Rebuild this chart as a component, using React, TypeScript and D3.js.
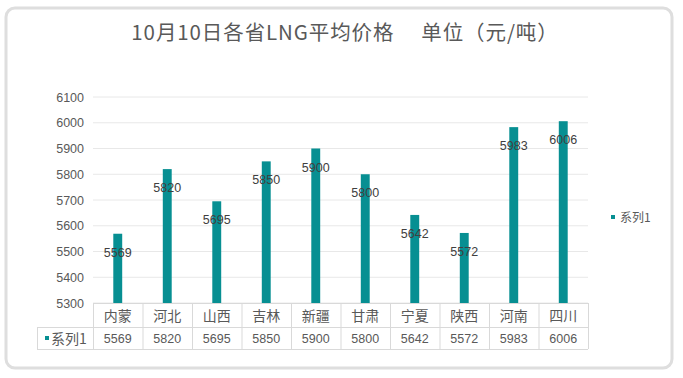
import React from "react";
import * as d3 from "d3";

const categories = ["内蒙", "河北", "山西", "吉林", "新疆", "甘肃", "宁夏", "陕西", "河南", "四川"];
const values = [5569, 5820, 5695, 5850, 5900, 5800, 5642, 5572, 5983, 6006];
const yTicks = [5300, 5400, 5500, 5600, 5700, 5800, 5900, 6000, 6100];
const seriesName = "系列1";
const title = "10月10日各省LNG平均价格　 单位（元/吨）";

const W = 683;
const H = 378;
const TEAL = "#078f92";
const FONT = "'Liberation Sans', 'Noto Sans CJK SC', sans-serif";
const CJK = "'Noto Sans CJK SC', sans-serif";

export default function App() {
  const x = d3.scaleBand<string>().domain(categories).range([93, 588]).paddingInner(0.82).paddingOuter(0.41);
  const y = d3.scaleLinear().domain([5300, 6100]).range([303, 97]);
  const step = x.step();
  const tableLeft = 37;
  const plotLeft = 93;
  const plotRight = 588;
  const row1Top = 303;
  const row1Bottom = 327;
  const row2Bottom = 349;

  return (
    <svg width={W} height={H} style={{ position: "absolute", left: 0, top: 0, background: "#fff" }}>
      <rect x={0} y={0} width={W} height={H} fill="#fff" />
      <rect x={6} y={8} width={666} height={360} rx={9} ry={9} fill="#fff" stroke="#dedede" strokeWidth={3} />
      <text x={345} y={40} textAnchor="middle" fontFamily={CJK} fontSize={20.5} letterSpacing={0.9} fill="#595959">
        {title}
      </text>
      {/* gridlines */}
      {yTicks.map((t) => (
        <line key={t} x1={plotLeft} x2={plotRight} y1={y(t)} y2={y(t)} stroke="#e8e8e8" strokeWidth={1} />
      ))}
      {/* y tick labels */}
      {yTicks.map((t) => (
        <text key={"l" + t} x={84} y={y(t) + 4.5} textAnchor="end" fontFamily={FONT} fontSize={12.5} fill="#595959">
          {t}
        </text>
      ))}
      {/* bars */}
      {categories.map((c, i) => (
        <rect key={c} x={x(c)!} y={y(values[i])} width={x.bandwidth()} height={y(5300) - y(values[i])} fill={TEAL} />
      ))}
      {/* data labels */}
      {categories.map((c, i) => (
        <text
          key={"d" + c}
          x={x(c)! + x.bandwidth() / 2}
          y={y(values[i]) + 23}
          textAnchor="middle"
          fontFamily={FONT}
          fontSize={12.5}
          fill="#404040"
        >
          {values[i]}
        </text>
      ))}
      {/* data table */}
      <g stroke="#d9d9d9" strokeWidth={1} fill="none">
        <line x1={plotLeft} x2={plotRight} y1={row1Top + 0.5} y2={row1Top + 0.5} />
        <line x1={tableLeft} x2={plotRight} y1={row1Bottom + 0.5} y2={row1Bottom + 0.5} />
        <line x1={tableLeft} x2={plotRight} y1={row2Bottom + 0.5} y2={row2Bottom + 0.5} />
        <line x1={tableLeft + 0.5} x2={tableLeft + 0.5} y1={row1Bottom} y2={row2Bottom} />
        {categories.map((c, i) => (
          <line key={"v" + c} x1={plotLeft + i * step + 0.5} x2={plotLeft + i * step + 0.5} y1={row1Top} y2={row2Bottom} />
        ))}
        <line x1={plotRight + 0.5} x2={plotRight + 0.5} y1={row1Top} y2={row2Bottom} />
      </g>
      {categories.map((c) => (
        <text key={"c" + c} x={x(c)! + x.bandwidth() / 2} y={321} textAnchor="middle" fontFamily={CJK} fontSize={14} fill="#595959">
          {c}
        </text>
      ))}
      {categories.map((c, i) => (
        <text key={"t" + c} x={x(c)! + x.bandwidth() / 2} y={343} textAnchor="middle" fontFamily={FONT} fontSize={12.5} fill="#595959">
          {values[i]}
        </text>
      ))}
      <rect x={45} y={336} width={4} height={4} fill={TEAL} />
      <text x={51} y={343.5} fontFamily={CJK} fontSize={14} fill="#595959">
        {seriesName}
      </text>
      {/* legend */}
      <rect x={611} y={215} width={4} height={4} fill={TEAL} />
      <text x={620} y={222} fontFamily={CJK} fontSize={12} fill="#595959">
        {seriesName}
      </text>
    </svg>
  );
}
